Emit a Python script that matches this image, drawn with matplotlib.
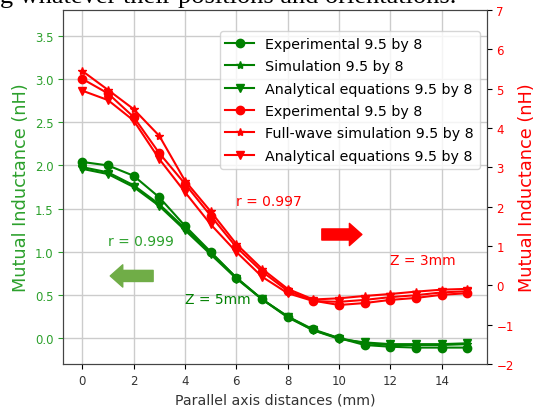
import matplotlib
matplotlib.use("Agg")
import matplotlib.pyplot as plt
import numpy as np

# parallel axis distance (mm)
x = np.arange(16)

# Z = 5mm (left axis)
green_exp = [2.04, 2.00, 1.88, 1.63, 1.30, 1.00, 0.70, 0.45, 0.25, 0.10, 0.00, -0.08, -0.10, -0.11, -0.11, -0.11]
green_sim = [1.98, 1.92, 1.77, 1.55, 1.27, 0.99, 0.70, 0.45, 0.25, 0.09, 0.00, -0.06, -0.08, -0.08, -0.08, -0.07]
green_ana = [1.96, 1.90, 1.75, 1.53, 1.25, 0.97, 0.69, 0.45, 0.24, 0.09, -0.01, -0.05, -0.07, -0.07, -0.07, -0.06]

# Z = 3mm (right axis)
red_exp = [5.25, 4.88, 4.28, 3.36, 2.58, 1.77, 0.97, 0.35, -0.14, -0.39, -0.50, -0.45, -0.37, -0.32, -0.24, -0.20]
red_sim = [5.45, 4.97, 4.48, 3.80, 2.66, 1.88, 1.05, 0.42, -0.09, -0.36, -0.33, -0.27, -0.22, -0.16, -0.11, -0.09]
red_ana = [4.95, 4.71, 4.19, 3.21, 2.37, 1.55, 0.85, 0.22, -0.20, -0.40, -0.42, -0.37, -0.30, -0.25, -0.18, -0.15]

fig = plt.figure(figsize=(5.39, 4.10), dpi=100)
ax = fig.add_axes([63/539, 45/410, (486.7-63)/539, 354/410])
ax2 = ax.twinx()

# tail of the document line above the figure (cut off in the screenshot)
fig.text(0.0, 1 - 3/410, "g whatever their positions and orientations.", family="Liberation Serif",
         fontsize=19, va="baseline", ha="left")

l1, = ax.plot(x, green_exp, "-o", color="green", ms=6, label="Experimental 9.5 by 8")
l2, = ax.plot(x, green_sim, "-*", color="green", ms=6, label="Simulation 9.5 by 8")
l3, = ax.plot(x, green_ana, "-v", color="green", ms=6, label="Analytical equations 9.5 by 8")
l4, = ax2.plot(x, red_exp, "-o", color="red", ms=6, label="Experimental 9.5 by 8")
l5, = ax2.plot(x, red_sim, "-*", color="red", ms=6, label="Full-wave simulation 9.5 by 8")
l6, = ax2.plot(x, red_ana, "-v", color="red", ms=6, label="Analytical equations 9.5 by 8")

ax.set_xlim(-0.75, 15.75)
ax.set_ylim(-0.3, 3.8)
ax2.set_ylim(-2, 7)
ax.set_xticks(range(0, 16, 2))
ax.grid(True, color="#cccccc", linewidth=1)

ax.set_xlabel("Parallel axis distances (mm)", fontsize=10.2, color="#333333")
ax.set_ylabel("Mutual Inductance (nH)", fontsize=12.8, color="tab:green", labelpad=3)
ax2.set_ylabel("Mutual Inductance (nH)", fontsize=12.8, color="red", labelpad=3)
ax.tick_params(axis="y", colors="tab:green", labelsize=8.5)
ax.tick_params(axis="x", labelsize=8.5, labelcolor="#333333")
ax2.tick_params(axis="y", labelcolor="red", labelsize=8.5)
for a in (ax, ax2):
    for s in a.spines.values():
        s.set_color("#444444")

ax.legend(handles=[l1, l2, l3, l4, l5, l6], loc="upper right", bbox_to_anchor=(0.984, 0.9407),
          borderaxespad=0, fontsize=10.3, labelspacing=0.59)

ax.text(1.0, 1.13, "r = 0.999", color="tab:green", fontsize=10, va="center")
ax.text(4.0, 0.45, "Z = 5mm", color="green", fontsize=10, va="center")
ax.text(6.0, 1.585, "r = 0.997", color="red", fontsize=10, va="center")
ax.text(12.0, 0.9, "Z = 3mm", color="red", fontsize=10, va="center")

arrow = "simple,head_length=0.9,head_width=1.6,tail_width=0.8"
ax.annotate("", xy=(1.09, 0.72), xytext=(2.76, 0.72),
            arrowprops=dict(arrowstyle=arrow, color="#70AD47", mutation_scale=10, shrinkA=0, shrinkB=0))
ax.annotate("", xy=(10.89, 1.2), xytext=(9.33, 1.2),
            arrowprops=dict(arrowstyle=arrow, color="red", mutation_scale=10, shrinkA=0, shrinkB=0))

fig.savefig("out.png", dpi=100)
